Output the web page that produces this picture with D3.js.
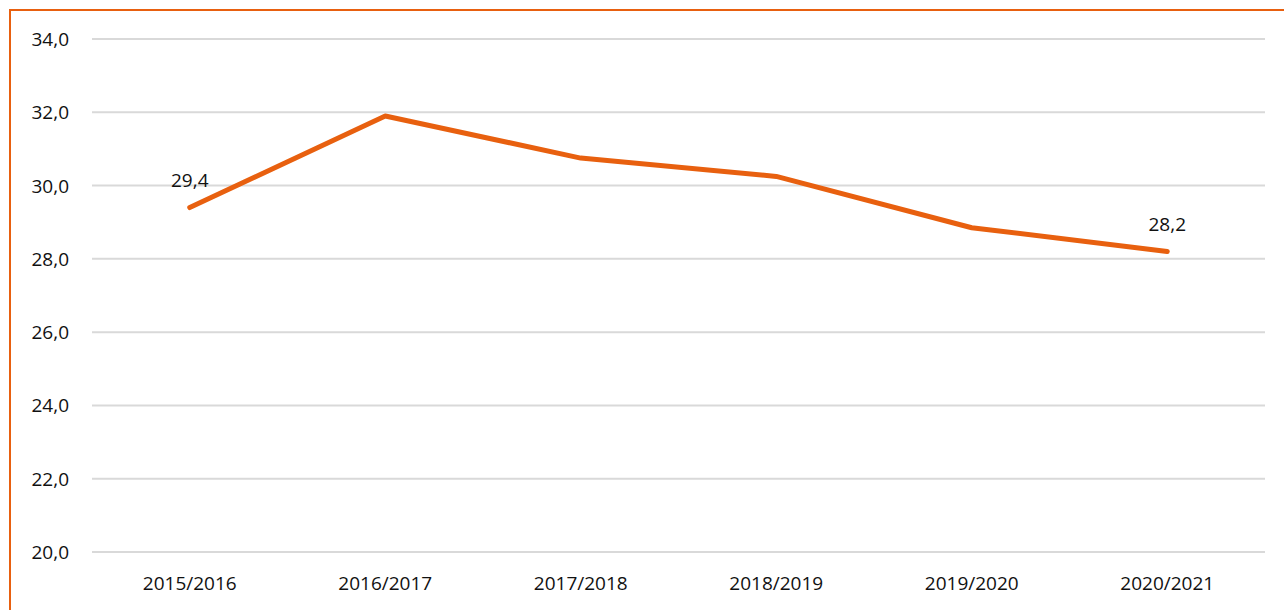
<!DOCTYPE html>
<html>
<head>
<meta charset="utf-8">
<script src="https://cdn.jsdelivr.net/npm/d3@7"></script>
<style>
  body { margin: 0; background: #fff; }
  svg { display: block; font-family: "Open Sans", "Noto Sans", sans-serif; }
</style>
</head>
<body>
<div id="chart"></div>
<script>
const years = ["2015/2016", "2016/2017", "2017/2018", "2018/2019", "2019/2020", "2020/2021"];
const values = [29.4, 31.9, 30.75, 30.25, 28.85, 28.2];
const yTicks = [20, 22, 24, 26, 28, 30, 32, 34];
const labelled = [0, 5]; // nur erster und letzter Wert beschriftet

const width = 1284, height = 610;
const orange = "#e8600f";
const fontSize = "19px";

const svg = d3.select("#chart")
    .append("svg")
    .attr("width", width)
    .attr("height", height);

// Rahmen links und oben
svg.append("path")
    .attr("d", `M10,${height} L10,10 L${width},10`)
    .attr("fill", "none")
    .attr("stroke", orange)
    .attr("stroke-width", 2);

const x = d3.scaleBand()
    .domain(years)
    .range([92, 1265]);

const y = d3.scaleLinear()
    .domain([20, 34])
    .range([552, 39]);

// Gitterlinien
svg.append("g")
    .selectAll("line")
    .data(yTicks)
    .enter()
    .append("line")
    .attr("x1", 92)
    .attr("x2", 1265)
    .attr("y1", d => y(d))
    .attr("y2", d => y(d))
    .attr("stroke", "#d9d9d9")
    .attr("stroke-width", 2);

// Y-Achsenbeschriftung
svg.append("g")
    .selectAll("text")
    .data(yTicks)
    .enter()
    .append("text")
    .attr("x", 69)
    .attr("y", d => y(d) + 7)
    .attr("text-anchor", "end")
    .attr("font-size", fontSize)
    .attr("fill", "#111")
    .text(d => d.toFixed(1).replace(".", ","));

// X-Achsenbeschriftung
svg.append("g")
    .selectAll("text")
    .data(years)
    .enter()
    .append("text")
    .attr("x", d => x(d) + x.bandwidth() / 2)
    .attr("y", 590)
    .attr("text-anchor", "middle")
    .attr("font-size", fontSize)
    .attr("fill", "#111")
    .text(d => d);

const line = d3.line()
    .x((d, i) => x(years[i]) + x.bandwidth() / 2)
    .y(d => y(d));

svg.append("path")
    .datum(values)
    .attr("d", line)
    .attr("fill", "none")
    .attr("stroke", orange)
    .attr("stroke-width", 5)
    .attr("stroke-linecap", "round")
    .attr("stroke-linejoin", "round");

// Datenbeschriftungen
svg.append("g")
    .selectAll("text")
    .data(labelled)
    .enter()
    .append("text")
    .attr("x", i => x(years[i]) + x.bandwidth() / 2)
    .attr("y", i => y(values[i]) - 21)
    .attr("text-anchor", "middle")
    .attr("font-size", fontSize)
    .attr("fill", "#111")
    .text(i => values[i].toFixed(1).replace(".", ","));
</script>
</body>
</html>
